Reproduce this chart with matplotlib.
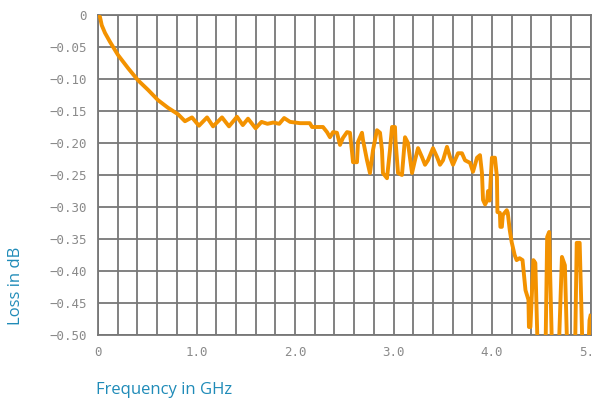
import numpy as np
import matplotlib
matplotlib.use("Agg")
import matplotlib.pyplot as plt

# frequency (GHz) and insertion loss (dB)
freq = [0.000, 0.020, 0.038, 0.071, 0.122, 0.203, 0.305, 0.406, 0.508, 0.609,
        0.711, 0.812, 0.883, 0.954, 1.025, 1.107, 1.168, 1.259, 1.330, 1.411,
        1.470, 1.523, 1.600, 1.660, 1.720, 1.780, 1.840, 1.890, 1.950, 2.050,
        2.150, 2.173, 2.284, 2.325, 2.355, 2.386, 2.426, 2.457, 2.487, 2.528,
        2.558, 2.579, 2.589, 2.629, 2.640, 2.680, 2.690, 2.731, 2.761, 2.792,
        2.832, 2.863, 2.883, 2.893, 2.934, 2.964, 2.985, 3.015, 3.020, 3.046,
        3.086, 3.117, 3.147, 3.188, 3.218, 3.249, 3.289, 3.320, 3.350, 3.401,
        3.442, 3.472, 3.503, 3.543, 3.574, 3.604, 3.655, 3.695, 3.726, 3.777,
        3.807, 3.848, 3.878, 3.898, 3.909, 3.930, 3.950, 3.960, 3.975, 3.999,
        4.030, 4.050, 4.055, 4.080, 4.085, 4.100, 4.110, 4.150, 4.160, 4.180,
        4.200, 4.230, 4.250, 4.280, 4.310, 4.340, 4.370, 4.375, 4.390, 4.420,
        4.440, 4.470, 4.540, 4.560, 4.580, 4.615, 4.670, 4.710, 4.740, 4.770,
        4.840, 4.860, 4.890, 4.925, 4.970, 4.990, 5.000]
loss = [0.000, -0.003, -0.016, -0.028, -0.042, -0.0625, -0.083, -0.102, -0.117, -0.133,
        -0.145, -0.155, -0.166, -0.160, -0.173, -0.160, -0.174, -0.160, -0.174, -0.159,
        -0.172, -0.162, -0.177, -0.167, -0.170, -0.168, -0.170, -0.161, -0.167, -0.169,
        -0.169, -0.175, -0.175, -0.183, -0.191, -0.183, -0.184, -0.203, -0.192, -0.183,
        -0.184, -0.214, -0.230, -0.230, -0.198, -0.184, -0.195, -0.227, -0.247, -0.211,
        -0.180, -0.184, -0.211, -0.247, -0.255, -0.211, -0.175, -0.175, -0.195, -0.247,
        -0.250, -0.191, -0.200, -0.247, -0.227, -0.208, -0.222, -0.234, -0.227, -0.208,
        -0.222, -0.234, -0.227, -0.206, -0.222, -0.234, -0.216, -0.216, -0.227, -0.231,
        -0.245, -0.223, -0.219, -0.247, -0.289, -0.296, -0.290, -0.275, -0.290, -0.223,
        -0.223, -0.253, -0.308, -0.309, -0.331, -0.331, -0.3125, -0.305, -0.309, -0.336,
        -0.355, -0.375, -0.383, -0.380, -0.383, -0.430, -0.445, -0.4875, -0.4875, -0.383,
        -0.3875, -0.560, -0.560, -0.347, -0.339, -0.560, -0.560, -0.378, -0.391, -0.560,
        -0.560, -0.356, -0.356, -0.560, -0.560, -0.477, -0.470]

x_ticks = [0, 1, 2, 3, 4, 5]
x_labels = ["0", "1.0", "2.0", "3.0", "4.0", "5.0"]
x_grid = np.arange(0, 5.01, 0.2)
y_ticks = [0, -0.05, -0.10, -0.15, -0.20, -0.25, -0.30, -0.35, -0.40, -0.45, -0.50]
y_labels = ["0"] + ["\u2212%.2f" % abs(v) for v in y_ticks[1:]]

orange = "#f39200"
grid_c = "#777777"
tick_c = "#8a8a8a"
blue = "#1f8bb8"

fig = plt.figure(figsize=(5.92, 4.03), dpi=100)
ax = fig.add_axes([98 / 592, 1 - 335 / 403, 492.5 / 592, 320 / 403])

ax.plot(freq, loss, color=orange, linewidth=2.8, zorder=3)

ax.set_xlim(0, 5)
ax.set_ylim(-0.5, 0)
ax.set_xticks(x_ticks)
ax.set_xticklabels(x_labels)
ax.set_yticks(y_ticks)
ax.set_yticklabels(y_labels)

# grid lines as plain segments across the axes
ax.vlines(x_grid, -0.5, 0, colors=grid_c, linewidth=1.3, zorder=2)
ax.hlines(y_ticks, 0, 5, colors=grid_c, linewidth=1.3, zorder=2)

ax.tick_params(which="both", length=0, colors=tick_c, labelsize=9, pad=8)
for lab in ax.get_xticklabels() + ax.get_yticklabels():
    lab.set_family("DejaVu Sans Mono")

for s in ax.spines.values():
    s.set_color(grid_c)
    s.set_linewidth(1.3)

fig.text(16 / 592, 1 - 286 / 403, "Loss in dB", rotation=90, color=blue,
         fontsize=12, family="Open Sans", ha="center", va="center")
fig.text(96 / 592, 1 - 390 / 403, "Frequency in GHz", color=blue,
         fontsize=12, family="Open Sans", ha="left", va="center")

fig.savefig("out.png", dpi=100)
